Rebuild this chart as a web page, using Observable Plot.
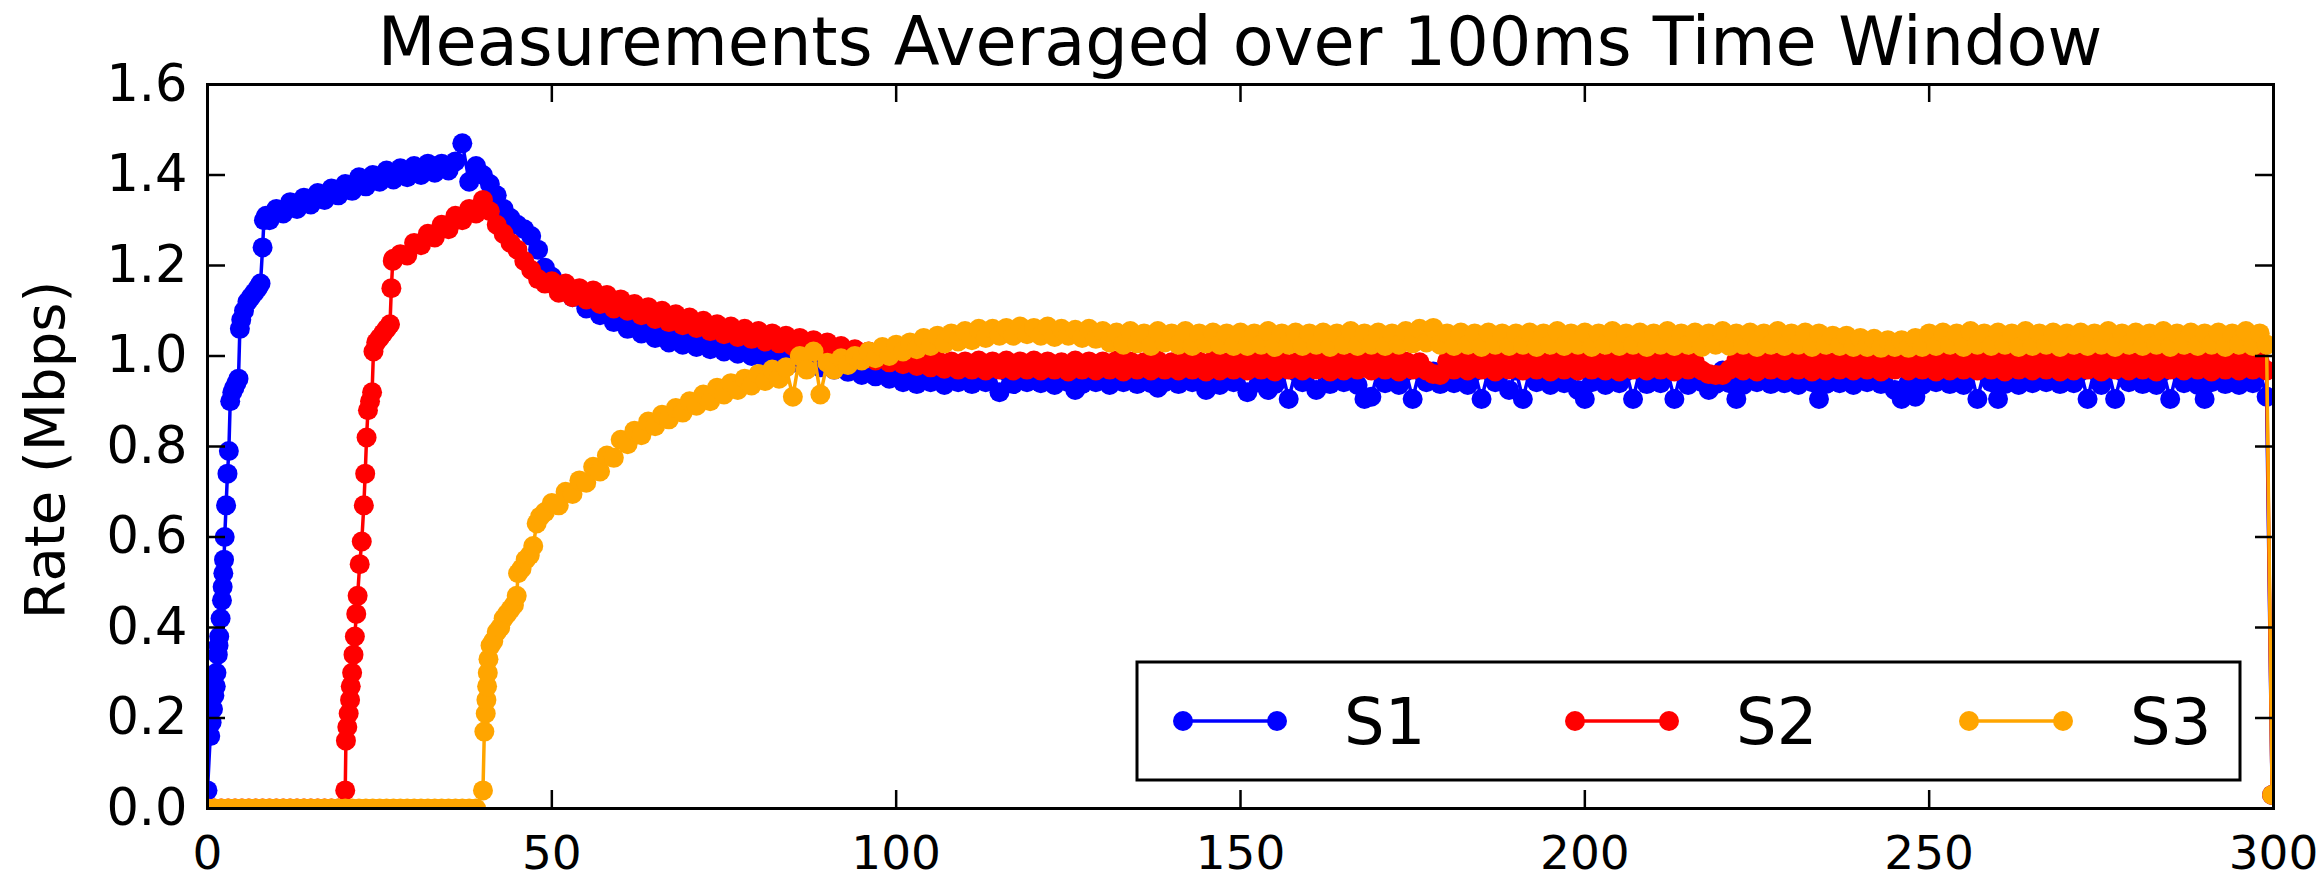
<!DOCTYPE html>
<html>
<head>
<meta charset="utf-8">
<script src="https://cdn.jsdelivr.net/npm/d3@7"></script>
<script src="https://cdn.jsdelivr.net/npm/@observablehq/plot@0.6"></script>
<style>
  html, body { margin: 0; padding: 0; background: #fff; }
  svg { display: block; }
</style>
</head>
<body>
<div id="chart"></div>
<script>
// ---------------- data ----------------
const chartTitle = "Measurements Averaged over 100ms Time Window";
const yLabel = "Rate (Mbps)";
const seriesNames = ["S1", "S2", "S3"];
const seriesColors = ["#0000ff", "#ff0000", "#ffa500"];
const xTicks = [0, 50, 100, 150, 200, 250, 300];
const yTicks = [0.0, 0.2, 0.4, 0.6, 0.8, 1.0, 1.2, 1.4, 1.6];
const steadyStep = 1; // seconds between the regularly spaced samples

// S1: irregular start-up samples [time s, rate Mbps]
const s1Early = [[0.0,0.04],[0.4,0.16],[0.6,0.19],[0.8,0.22],[1.0,0.25],[1.2,0.27],[1.3,0.30],[1.5,0.34],[1.6,0.36],[1.7,0.38],[1.9,0.42],[2.1,0.46],[2.2,0.49],[2.3,0.52],[2.4,0.55],[2.5,0.60],[2.7,0.67],[2.9,0.74],[3.1,0.79],[3.3,0.90],[3.6,0.92],[3.9,0.93],[4.2,0.94],[4.5,0.95],[4.7,1.06],[4.9,1.08],[5.3,1.10],[5.8,1.12],[6.3,1.13],[6.8,1.14],[7.3,1.15],[7.7,1.16],[8.0,1.24],[8.2,1.30],[8.5,1.31]];
const s1SteadyFrom = 9;
const s1Steady = [
1.30,1.325,1.315,1.34,1.325,1.35,1.335,1.36,1.345,1.37,1.355,
1.38,1.365,1.395,1.375,1.40,1.385,1.41,1.39,1.415,1.395,
1.42,1.40,1.425,1.405,1.425,1.41,1.43,1.47,1.385,1.42,
1.40,1.38,1.355,1.325,1.305,1.29,1.28,1.265,1.235,1.195,
1.175,1.155,1.155,1.13,1.13,1.105,1.11,1.09,1.095,1.075,
1.08,1.06,1.07,1.05,1.06,1.04,1.05,1.03,1.045,1.025,
1.04,1.02,1.035,1.015,1.03,1.01,1.025,1.005,1.02,1.0,
1.015,0.995,1.01,0.99,1.005,0.985,1.0,0.98,0.995,0.975,
0.99,0.97,0.985,0.965,0.98,0.958,0.978,0.955,0.975,0.95,
0.968,0.942,0.97,0.938,0.965,0.942,0.968,0.936,0.966,0.942,
0.97,0.938,0.965,0.942,0.968,0.92,0.966,0.938,0.968,0.942,
0.965,0.94,0.97,0.936,0.966,0.942,0.925,0.938,0.968,0.942,
0.966,0.936,0.97,0.942,0.965,0.938,0.968,0.94,0.93,0.942,
0.968,0.938,0.966,0.942,0.97,0.925,0.965,0.936,0.968,0.942,
0.966,0.92,0.968,0.94,0.925,0.938,0.968,0.905,0.966,0.942,
0.968,0.925,0.97,0.938,0.966,0.942,0.968,0.936,0.905,0.91,
0.968,0.94,0.97,0.936,0.966,0.905,0.968,0.942,0.966,0.938,
0.97,0.94,0.968,0.936,0.966,0.905,0.968,0.942,0.966,0.925,
0.968,0.905,0.966,0.942,0.97,0.936,0.968,0.94,0.966,0.925,
0.905,0.942,0.968,0.936,0.97,0.94,0.966,0.905,0.968,0.938,
0.97,0.94,0.966,0.905,0.968,0.936,0.97,0.942,0.925,0.938,
0.968,0.94,0.905,0.936,0.97,0.942,0.966,0.938,0.968,0.94,
0.97,0.936,0.966,0.942,0.905,0.938,0.968,0.94,0.966,0.936,
0.97,0.942,0.966,0.938,0.968,0.925,0.905,0.94,0.91,0.936,
0.97,0.942,0.966,0.938,0.968,0.936,0.97,0.905,0.966,0.942,
0.905,0.938,0.968,0.936,0.97,0.94,0.966,0.942,0.968,0.938,
0.97,0.94,0.966,0.905,0.968,0.936,0.97,0.905,0.966,0.942,
0.968,0.938,0.97,0.936,0.966,0.905,0.968,0.94,0.97,0.936,
0.905,0.942,0.966,0.938,0.968,0.936,0.97,0.94,0.966,0.91];
const s1End = [[299.8,0.03]];

// S2
const s2Early = [[0,0],[1,0],[2,0],[3,0],[4,0],[5,0],[6,0],[7,0],[8,0],[9,0],[10,0],[11,0],[12,0],[13,0],[14,0],[15,0],[16,0],[17,0],[18,0],[19,0],
[20.0,0.04],[20.1,0.15],[20.3,0.18],[20.5,0.21],[20.7,0.24],[20.8,0.27],[21.0,0.30],[21.2,0.34],[21.4,0.38],[21.6,0.43],[21.8,0.47],[22.1,0.54],[22.4,0.59],[22.7,0.67],[22.9,0.74],[23.1,0.82],[23.3,0.88],[23.6,0.90],[23.9,0.92],[24.1,1.01],[24.5,1.03],[25.0,1.04],[25.5,1.05],[26.0,1.06],[26.5,1.07],[26.7,1.15],[26.9,1.21]];
const s2SteadyFrom = 27;
const s2Steady = [
1.215,1.225,1.222,
1.25,1.245,1.27,1.262,1.29,1.28,1.31,1.30,1.325,1.315,
1.345,1.32,1.29,1.27,1.25,1.235,1.21,1.19,1.17,1.16,
1.165,1.14,1.16,1.13,1.15,1.125,1.145,1.115,1.135,1.105,
1.125,1.10,1.115,1.09,1.108,1.082,1.10,1.075,1.092,1.068,
1.085,1.062,1.078,1.055,1.07,1.048,1.065,1.042,1.06,1.038,
1.055,1.032,1.05,1.028,1.045,1.022,1.04,1.018,1.035,1.012,
1.03,1.008,1.022,1.0,1.015,0.995,1.01,0.99,1.005,0.986,
1.0,0.982,0.995,0.978,0.992,0.975,0.99,0.972,0.988,0.97,
0.988,0.97,0.99,0.968,0.988,0.97,0.99,0.968,0.988,0.97,
0.99,0.968,0.988,0.97,0.986,0.966,0.99,0.97,0.988,0.968,
0.988,0.97,0.99,0.966,0.988,0.97,0.986,0.968,0.99,0.97,
0.986,0.968,0.99,0.97,0.988,0.966,0.99,0.968,0.986,0.97,
0.99,0.968,0.988,0.97,0.99,0.966,0.988,0.97,0.986,0.968,
0.99,0.97,0.988,0.966,0.99,0.968,0.986,0.97,0.99,0.968,
0.988,0.97,0.99,0.966,0.988,0.97,0.986,0.968,0.96,0.958,
0.988,0.97,0.99,0.968,0.986,0.97,0.99,0.966,0.988,0.97,
0.99,0.968,0.988,0.97,0.986,0.966,0.99,0.97,0.988,0.968,
0.99,0.97,0.986,0.968,0.99,0.966,0.988,0.97,0.99,0.968,
0.988,0.97,0.99,0.966,0.988,0.97,0.986,0.968,0.96,0.958,
0.958,0.97,0.99,0.968,0.988,0.966,0.99,0.97,0.986,0.968,
0.99,0.97,0.988,0.966,0.99,0.968,0.986,0.97,0.99,0.968,
0.988,0.97,0.99,0.966,0.988,0.97,0.986,0.968,0.99,0.97,
0.988,0.966,0.99,0.968,0.986,0.97,0.99,0.968,0.988,0.97,
0.99,0.966,0.988,0.97,0.986,0.968,0.99,0.97,0.988,0.966,
0.99,0.968,0.986,0.97,0.99,0.966,0.988,0.97,0.99,0.968,
0.986,0.97,0.99,0.966,0.988,0.97,0.99,0.968,0.986,0.97,
0.99,0.966,0.988,0.97,0.986,0.968,0.99,0.97,0.988,0.968];
const s2End = [[299.8,0.03]];

// S3
const s3Early = [[0,0],[1,0],[2,0],[3,0],[4,0],[5,0],[6,0],[7,0],[8,0],[9,0],[10,0],[11,0],[12,0],[13,0],[14,0],[15,0],[16,0],[17,0],[18,0],[19,0],
[20,0],[21,0],[22,0],[23,0],[24,0],[25,0],[26,0],[27,0],[28,0],[29,0],[30,0],[31,0],[32,0],[33,0],[34,0],[35,0],[36,0],[37,0],[38,0],[39,0],
[40.0,0.04],[40.2,0.17],[40.4,0.21],[40.5,0.24],[40.6,0.27],[40.7,0.30],[40.8,0.33],[41.1,0.36],[41.5,0.37],[42.0,0.39],[42.5,0.40],[43.0,0.42],[43.5,0.43],[44.0,0.44],[44.5,0.45],[44.9,0.47],[45.1,0.52],[45.6,0.53],[46.2,0.55],[46.8,0.56],[47.3,0.58],[47.8,0.63],[48.3,0.645]];
const s3SteadyFrom = 49;
const s3Steady = [
0.655,
0.675,0.67,0.70,0.695,0.725,0.72,0.755,0.745,0.78,0.775,
0.815,0.805,0.835,0.825,0.855,0.845,0.87,0.86,0.885,0.875,
0.90,0.89,0.915,0.90,0.93,0.915,0.94,0.925,0.95,0.935,
0.96,0.945,0.97,0.95,0.975,0.91,1.0,0.97,1.01,0.915,
0.985,0.97,0.995,0.98,1.0,0.99,1.01,0.995,1.02,1.0,
1.025,1.01,1.03,1.015,1.04,1.022,1.045,1.028,1.05,1.032,
1.055,1.035,1.06,1.04,1.06,1.045,1.062,1.045,1.065,1.048,
1.062,1.045,1.065,1.042,1.06,1.045,1.058,1.04,1.06,1.038,
1.055,1.03,1.052,1.025,1.055,1.028,1.05,1.022,1.055,1.03,
1.05,1.025,1.055,1.022,1.05,1.028,1.052,1.025,1.05,1.022,
1.052,1.022,1.05,1.025,1.055,1.02,1.05,1.025,1.052,1.022,
1.05,1.025,1.052,1.02,1.05,1.025,1.055,1.022,1.05,1.025,
1.052,1.022,1.05,1.025,1.055,1.028,1.06,1.03,1.062,1.025,
1.05,1.022,1.052,1.025,1.05,1.02,1.052,1.025,1.05,1.022,
1.05,1.025,1.052,1.02,1.05,1.025,1.055,1.022,1.05,1.025,
1.052,1.02,1.05,1.025,1.055,1.022,1.05,1.025,1.052,1.02,
1.05,1.025,1.055,1.022,1.05,1.025,1.052,1.02,1.05,1.025,
1.055,1.022,1.05,1.025,1.052,1.02,1.05,1.025,1.055,1.022,
1.05,1.025,1.052,1.02,1.05,1.025,1.045,1.022,1.045,1.02,
1.04,1.02,1.038,1.018,1.035,1.02,1.035,1.018,1.04,1.02,
1.05,1.022,1.052,1.025,1.05,1.02,1.055,1.025,1.05,1.022,
1.052,1.025,1.05,1.02,1.055,1.022,1.05,1.025,1.052,1.02,
1.05,1.025,1.052,1.022,1.05,1.025,1.055,1.02,1.05,1.025,
1.052,1.022,1.05,1.025,1.055,1.02,1.05,1.025,1.052,1.022,
1.05,1.025,1.052,1.02,1.05,1.025,1.055,1.022,1.05,1.025];
const s3End = [[299.8,0.03]];

// ---------------- assemble rows ----------------
function buildSeries(name, early, steadyFrom, steady, end) {
  const rows = early.map(([t, v]) => ({series: name, t, v}));
  steady.forEach((v, i) => rows.push({series: name, t: steadyFrom + i * steadyStep, v}));
  end.forEach(([t, v]) => rows.push({series: name, t, v}));
  return rows;
}
const s1 = buildSeries("S1", s1Early, s1SteadyFrom, s1Steady, s1End);
const s2 = buildSeries("S2", s2Early, s2SteadyFrom, s2Steady, s2End);
const s3 = buildSeries("S3", s3Early, s3SteadyFrom, s3Steady, s3End);
const allSeries = [s1, s2, s3];

// ---------------- layout ----------------
const W = 2320, H = 886;
const M = {left: 207, right: 47, top: 84, bottom: 78};
const frameW = W - M.left - M.right;
const frameH = H - M.top - M.bottom;
const tickLen = 18;
const dotR = 10;
const lineW = 3.5;
const font = "DejaVu Sans, Liberation Sans, sans-serif";

const seriesMarks = allSeries.flatMap(rows => [
  Plot.line(rows, {x: "t", y: "v", stroke: "series", strokeWidth: lineW, clip: true}),
  Plot.dot(rows, {x: "t", y: "v", fill: "series", r: dotR, clip: true})
]);

const plot = Plot.plot({
  width: W, height: H,
  marginLeft: M.left, marginRight: M.right, marginTop: M.top, marginBottom: M.bottom,
  style: {fontFamily: font, background: "#fff", color: "#000"},
  x: {domain: [0, 300]},
  y: {domain: [0, 1.6]},
  color: {domain: seriesNames, range: seriesColors},
  marks: [
    ...seriesMarks,
    // inward ticks on all four sides
    Plot.tickY(yTicks, {y: d => d, insetRight: frameW - tickLen, stroke: "#000", strokeWidth: 2.5}),
    Plot.tickY(yTicks, {y: d => d, insetLeft: frameW - tickLen, stroke: "#000", strokeWidth: 2.5}),
    Plot.tickX(xTicks, {x: d => d, insetTop: frameH - tickLen, stroke: "#000", strokeWidth: 2.5}),
    Plot.tickX(xTicks, {x: d => d, insetBottom: frameH - tickLen, stroke: "#000", strokeWidth: 2.5}),
    Plot.frame({stroke: "#000", strokeWidth: 3}),
    Plot.axisX({ticks: xTicks, tickSize: 0, tickPadding: 27, fontSize: 47, label: null, tickFormat: d => String(d)}),
    Plot.axisY({ticks: yTicks, tickSize: 0, tickPadding: 20, fontSize: 51, label: null, tickFormat: d => d.toFixed(1)})
  ]
});

const svg = d3.select(plot);
svg.attr("font-family", font);

// title
svg.append("text")
  .attr("x", M.left + frameW / 2).attr("y", 65)
  .attr("text-anchor", "middle").attr("font-size", 67).attr("fill", "#000")
  .text(chartTitle);

// y label
svg.append("text")
  .attr("transform", `translate(64,${M.top + frameH / 2 + 4}) rotate(-90)`)
  .attr("text-anchor", "middle").attr("font-size", 56).attr("fill", "#000")
  .text(yLabel);

// legend
const lg = {x: 1137, y: 662, w: 1103, h: 118, itemX: [1183, 1575, 1969], lineLen: 94, textGap: 67, fontSize: 64};
const legend = svg.append("g");
legend.append("rect")
  .attr("x", lg.x).attr("y", lg.y).attr("width", lg.w).attr("height", lg.h)
  .attr("fill", "#fff").attr("stroke", "#000").attr("stroke-width", 3);
const cy = lg.y + lg.h / 2;
seriesNames.forEach((name, i) => {
  const c = plot.scale("color").apply(name);
  const x0 = lg.itemX[i];
  legend.append("line").attr("x1", x0).attr("x2", x0 + lg.lineLen).attr("y1", cy).attr("y2", cy)
    .attr("stroke", c).attr("stroke-width", lineW);
  [x0, x0 + lg.lineLen].forEach(cx => legend.append("circle").attr("cx", cx).attr("cy", cy).attr("r", dotR).attr("fill", c));
  legend.append("text").attr("x", x0 + lg.lineLen + lg.textGap).attr("y", cy + 23)
    .attr("text-anchor", "start")
    .attr("font-size", lg.fontSize).attr("fill", "#000").text(name);
});

document.getElementById("chart").appendChild(plot);
</script>
</body>
</html>
